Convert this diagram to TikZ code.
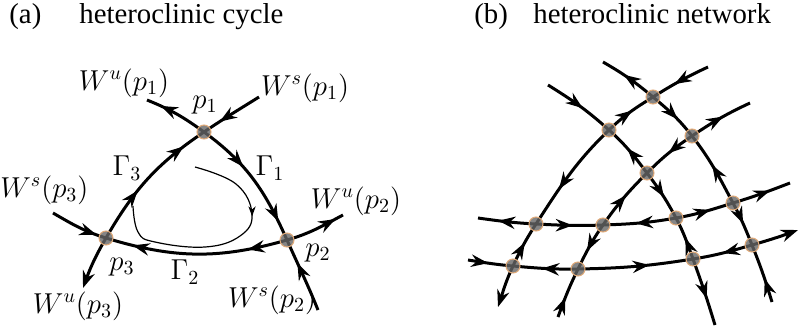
\documentclass[tikz,border=0pt]{standalone}
\usepackage{fontspec}
\newfontfamily\titlefont{Liberation Serif}
\usetikzlibrary{arrows.meta,decorations.markings}
\pgfdeclarelayer{bg}
\pgfsetlayers{bg,main}
\definecolor{rimcol}{RGB}{225,170,120}

\begin{document}
\begin{tikzpicture}[
        x=0.5pt, y=0.5pt,
        every node/.style={font=\Large},
        fixpt/.style={circle, inner sep=0pt, minimum size=7pt, fill=black!60, fill opacity=0.8, draw=rimcol, line width=0.5pt},
        orbit/.style={line width=1.5pt},
        ar/.style={postaction={decorate, decoration={markings, mark=at position #1 with {\arrow{Stealth[length=8.5pt,width=6.2pt,inset=2.8pt]}}}}},
        endar/.style={-{Stealth[length=8.5pt,width=6.2pt,inset=2.8pt]}},
        thinorbit/.style={line width=0.6pt, postaction={decorate, decoration={markings, mark=at position #1 with {\arrow{Stealth[length=5pt,width=3.6pt,inset=1.5pt]}}}}},
        title/.style={font=\titlefont\Large, anchor=base west, inner sep=0pt}
    ]
        \useasboundingbox (0,0) rectangle (799,334);

        \node[title] (tag-a) at (9,311) {(a)};
        \node[title] (title-a) at (79,311) {heteroclinic cycle};
        \node[title] (tag-b) at (474,311) {(b)};
        \node[title] (title-b) at (533,311) {heteroclinic network};

        \node[fixpt] (p1) at (204,202) {};
        \node[fixpt] (p2) at (287,94) {};
        \node[fixpt] (p3) at (106,96) {};
        \coordinate (u1) at (147,234);
        \coordinate (s1) at (259,237);
        \coordinate (u2) at (343,119);
        \coordinate (s2) at (318,24);
        \coordinate (u3) at (83,46);
        \coordinate (s3) at (53,121);

        \node (lab-u1) at (124,251) {$W^u(p_1)$};
        \node (lab-s1) at (305,246) {$W^s(p_1)$};
        \node (lab-p1) at (205,229) {$p_1$};
        \node (lab-g3) at (127,166) {$\Gamma_3$};
        \node (lab-g1) at (270,166) {$\Gamma_1$};
        \node[anchor=west, inner sep=0pt] (lab-s3) at (0,144) {$W^s(p_3)$};
        \node (lab-u2) at (356,133) {$W^u(p_2)$};
        \node (lab-p2) at (318,81) {$p_2$};
        \node (lab-s2) at (272,34) {$W^s(p_2)$};
        \node (lab-p3) at (122,67) {$p_3$};
        \node (lab-g2) at (185,62) {$\Gamma_2$};
        \node (lab-u3) at (78,28) {$W^u(p_3)$};

        \node[fixpt] (qA) at (653,237) {};
        \node[fixpt] (qB) at (609,204) {};
        \node[fixpt] (qC) at (692,198) {};
        \node[fixpt] (qD) at (647,161) {};
        \node[fixpt] (qE) at (536,110) {};
        \node[fixpt] (qF) at (603,109) {};
        \node[fixpt] (qG) at (676,116) {};
        \node[fixpt] (qH) at (733,131) {};
        \node[fixpt] (qI) at (513,68) {};
        \node[fixpt] (qJ) at (578,65) {};
        \node[fixpt] (qK) at (693,75) {};
        \node[fixpt] (qL) at (752,89) {};
        \coordinate (c1s) at (603,272);
        \coordinate (c1e) at (772,32);
        \coordinate (c2s) at (708,267);
        \coordinate (c2e) at (498,27);
        \coordinate (c3s) at (548,249);
        \coordinate (c3e) at (715,9);
        \coordinate (c4s) at (750,231);
        \coordinate (c4e) at (558,17);
        \coordinate (h1s) at (478,116);
        \coordinate (h1e) at (790,151);
        \coordinate (h2s) at (468,74);
        \coordinate (h2e) at (798,104);

        \begin{pgfonlayer}{bg}
        \draw[orbit, ar=0.38, ar=0.85] (p1.center) to[out=-36, in=114] (p2.center);
        \draw[orbit, ar=0.22, ar=0.85] (p2.center) to[out=196, in=-17] (p3.center);
        \draw[orbit, ar=0.39, ar=0.83] (p3.center) to[out=60, in=214] (p1.center);
        \draw[orbit, ar=0.77] (p1.center) to[out=144, in=-22] (u1);
        \draw[orbit, ar=0.71] (s1) to[out=212, in=34] (p1.center);
        \draw[orbit, ar=0.86] (p2.center) to[out=16, in=208] (u2);
        \draw[orbit, ar=0.67] (s2) to[out=112, in=-66] (p2.center);
        \draw[orbit, ar=0.83] (s3) to[out=-30, in=163] (p3.center);
        \draw[orbit, endar] (p3.center) to[out=240, in=70] (u3);
        \draw[thinorbit=0.34] plot[smooth, tension=0.7] coordinates {(195,167) (236,150) (252,120) (240,98) (205,87) (155,92) (138,102) (133,128)};

        \draw[orbit, ar=0.6] (qA.center) to[out=140, in=-30] (c1s);
        \draw[orbit, ar=0.6] (qA.center) to[out=-40, in=128] (qC.center);
        \draw[orbit, ar=0.55] (qH.center) to[out=118, in=-52] (qC.center);
        \draw[orbit, ar=0.5] (qH.center) to[out=-62, in=112] (qL.center);
        \draw[orbit, ar=0.4] (c1e) to[out=107, in=-68] (qL.center);

        \draw[orbit, ar=0.6] (c2s) to[out=205, in=32] (qA.center);
        \draw[orbit, ar=0.55] (qB.center) to[out=44, in=212] (qA.center);
        \draw[orbit, ar=0.65] (qB.center) to[out=224, in=57] (qE.center);
        \draw[orbit, ar=0.55] (qI.center) to[out=65, in=237] (qE.center);
        \draw[orbit, endar] (qI.center) to[out=245, in=72] (c2e);

        \draw[orbit, ar=0.55] (c3s) to[out=-32, in=138] (qB.center);
        \draw[orbit, ar=0.55] (qD.center) to[out=127, in=-42] (qB.center);
        \draw[orbit, ar=0.55] (qD.center) to[out=-53, in=118] (qG.center);
        \draw[orbit, ar=0.5] (qK.center) to[out=110, in=-62] (qG.center);
        \draw[orbit, ar=0.6] (qK.center) to[out=-70, in=107] (c3e);

        \draw[orbit, ar=0.55] (qC.center) to[out=34, in=205] (c4s);
        \draw[orbit, ar=0.5] (qC.center) to[out=214, in=45] (qD.center);
        \draw[orbit, ar=0.55] (qF.center) to[out=55, in=225] (qD.center);
        \draw[orbit, ar=0.6] (qF.center) to[out=235, in=64] (qJ.center);
        \draw[orbit, ar=0.4] (c4e) to[out=70, in=244] (qJ.center);

        \draw[orbit, ar=0.65] (qE.center) to[out=177, in=-8] (h1s);
        \draw[orbit, ar=0.55] (qE.center) to[out=-3, in=182] (qF.center);
        \draw[orbit, ar=0.55] (qG.center) to[out=190, in=2] (qF.center);
        \draw[orbit, ar=0.6] (qG.center) to[out=10, in=197] (qH.center);
        \draw[orbit, ar=0.65] (qH.center) to[out=17, in=201] (h1e);

        \draw[orbit, ar=0.45] (h2s) to[out=-9, in=175] (qI.center);
        \draw[orbit, ar=0.55] (qJ.center) to[out=181, in=-5] (qI.center);
        \draw[orbit, ar=0.62] (qJ.center) to[out=1, in=189] (qK.center);
        \draw[orbit, ar=0.5] (qL.center) to[out=196, in=9] (qK.center);
        \draw[orbit, endar] (qL.center) to[out=16, in=200] (h2e);
        \end{pgfonlayer}
    \end{tikzpicture}
\end{document}
